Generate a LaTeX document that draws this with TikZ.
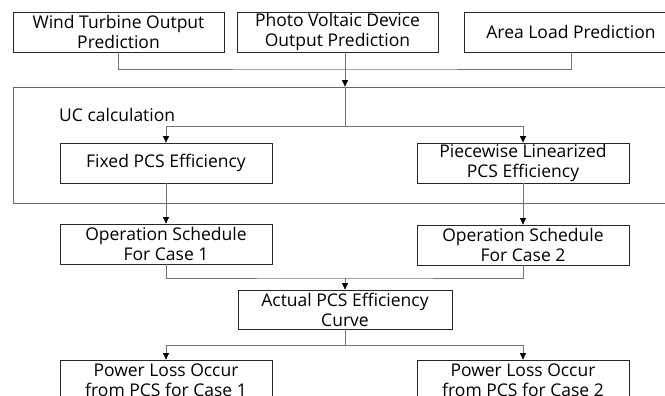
\documentclass[tikz,border=0pt]{standalone}
\usepackage{fontspec}
\setmainfont{Open Sans}
\usepackage{tikz}
\usetikzlibrary{arrows.meta,backgrounds,calc}
\tikzset{
blk/.style={draw=black!85,line width=0.8pt,fill=white,align=center,inner sep=0pt,minimum height=40pt,font=\fontsize{17.5}{20}\selectfont},
con/.style={draw=black!55,line width=0.7pt},
arr/.style={con,-{Triangle[color=black,width=6pt,length=6.5pt]}},
}
\begin{document}
\begin{tikzpicture}[x=1pt,y=-1pt]
\fill[white] (0,0) rectangle (665,396);
\clip (0,0) rectangle (665,396);
\node[blk,minimum width=211pt] (wt) at (118.5,32) {Wind Turbine Output\\Prediction};
\node[blk,minimum width=201pt] (pv) at (337.5,32) {Photo Voltaic Device\\Output Prediction};
\node[blk,minimum width=214pt] (load) at (571,32) {Area Load Prediction};
\node[draw=black!60,line width=0.8pt,minimum width=677pt,minimum height=116pt,inner sep=0pt] (ucbox) at (351.5,145) {};
\node[anchor=west,inner sep=0pt,font=\fontsize{17.5}{20}\selectfont] (uclbl) at (59,115) {UC calculation};
\node[blk,minimum width=212pt] (fixed) at (166,163) {Fixed PCS Efficiency};
\node[blk,minimum width=212pt] (piece) at (523,163) {Piecewise Linearized\\PCS Efficiency};
\node[blk,minimum width=212pt] (op1) at (166,244) {Operation Schedule\\For Case 1};
\node[blk,minimum width=212pt] (op2) at (523,245) {Operation Schedule\\For Case 2};
\node[blk,minimum width=214pt,minimum height=39pt] (actual) at (345,309.5) {Actual PCS Efficiency\\Curve};
\node[blk,minimum width=212pt] (loss1) at (166,380) {Power Loss Occur\\from PCS for Case 1};
\node[blk,minimum width=212pt] (loss2) at (523,380) {Power Loss Occur\\from PCS for Case 2};
\coordinate (jtop) at (345,69);
\coordinate (jmid) at (345,126);
\coordinate (jlow) at (345,278);
\coordinate (jbot) at (345,345);
\draw[con] (wt.south) |- (jtop) -| (load.south);
\draw[arr] (pv.south -| jtop) -- (ucbox.north -| jtop);
\draw[con] (ucbox.north -| jmid) -- (jmid);
\draw[arr] (jmid) -| (fixed.north);
\draw[arr] (jmid) -| (piece.north);
\draw[arr] (fixed.south) -- (op1.north);
\draw[arr] (piece.south) -- (op2.north -| piece.south);
\draw[con] (op1.south) |- (jlow) -| (op2.south);
\draw[arr] (jlow) -- (actual.north);
\draw[con] (actual.south) -- (jbot);
\draw[arr] (jbot) -| (loss1.north);
\draw[arr] (jbot) -| (loss2.north);
\end{tikzpicture}
\end{document}
